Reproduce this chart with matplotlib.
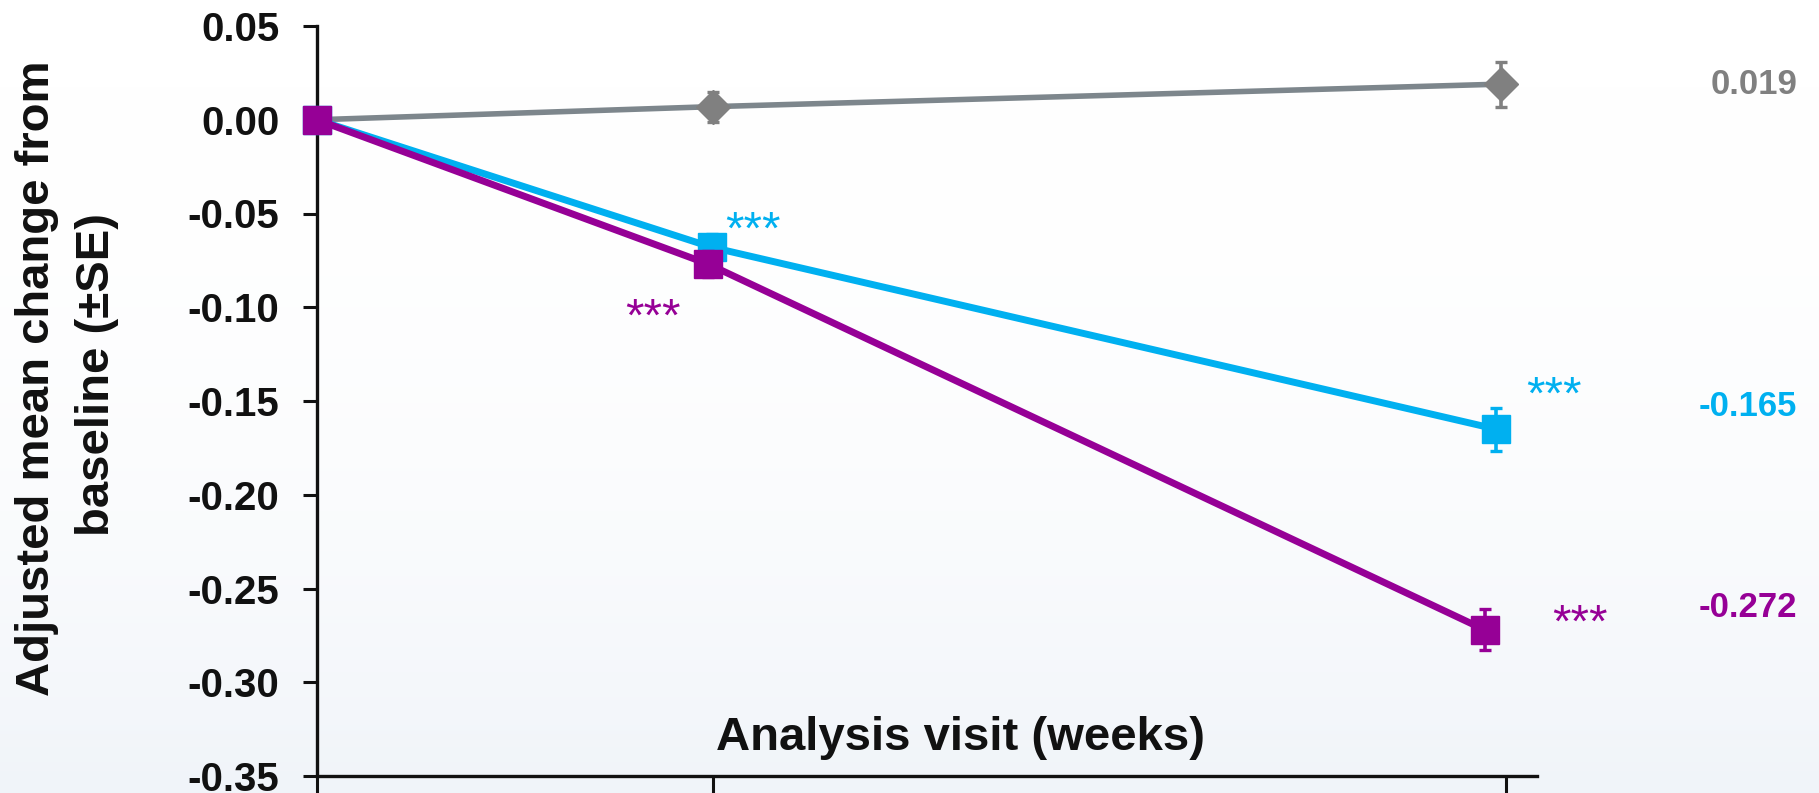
import numpy as np
import matplotlib
matplotlib.use("Agg")
import matplotlib.pyplot as plt
import matplotlib.transforms as mtransforms
from matplotlib.ticker import FormatStrFormatter
from matplotlib.colors import LinearSegmentedColormap

# ---- data -------------------------------------------------------------
weeks = [0, 12, 36]

placebo_mean = [0.0, 0.007, 0.019]
placebo_se = [0.0, 0.008, 0.012]

dose_a_mean = [0.0, -0.068, -0.165]
dose_a_se = [0.0, 0.007, 0.0115]

dose_b_mean = [0.0, -0.077, -0.272]
dose_b_se = [0.0, 0.007, 0.011]

dose_a_sig = ["", "***", "***"]
dose_b_sig = ["", "***", "***"]

y_ticks = [0.05, 0.00, -0.05, -0.10, -0.15, -0.20, -0.25, -0.30, -0.35]

y_label_lines = ["Adjusted mean change from", "baseline (\u00b1SE)"]
x_label = "Analysis visit (weeks)"

# ---- style --------------------------------------------------------------
FONT = ["Liberation Sans", "Arial", "DejaVu Sans"]
plt.rcParams["font.family"] = FONT
plt.rcParams["font.weight"] = "bold"

GRAY_LINE = "#7d868c"
GRAY = "#808080"
CYAN = "#00b0f0"
PURPLE = "#960096"
INK = "#111111"

W, H, DPI = 1819, 793, 100
fig = plt.figure(figsize=(W / DPI, H / DPI), dpi=DPI, facecolor="white")

# soft pale-blue wash in the lower part of the canvas
bg = fig.add_axes([0, 0, 1, 1], zorder=-10)
grad = np.linspace(0, 1, 256).reshape(-1, 1) ** 2.5
cmap = LinearSegmentedColormap.from_list("wash", ["#ffffff", "#f0f4f9"])
bg.imshow(grad, aspect="auto", cmap=cmap, extent=[0, 1, 0, 1], origin="upper")
bg.set_axis_off()

left, right = 317 / W, 1537 / W
bottom, top = 1 - 776 / H, 1 - 26 / H
ax = fig.add_axes([left, bottom, right - left, top - bottom])
ax.patch.set_alpha(0)

x_per_px = 36 / (1506 - 317)
ax.set_xlim(0, (1537 - 317) * x_per_px)
ax.set_ylim(-0.35, 0.05)

# horizontal dodge so the final-visit markers do not sit on top of each other
dodge = {
    "placebo": [0, 0.0, -0.15],
    "dose_a": [0, -0.05, -0.3],
    "dose_b": [0, -0.15, -0.65],
}

series = [
    ("placebo", placebo_mean, placebo_se, GRAY_LINE, GRAY, "D", 17, 4.0),
    ("dose_a", dose_a_mean, dose_a_se, CYAN, CYAN, "s", 20, 5.0),
    ("dose_b", dose_b_mean, dose_b_se, PURPLE, PURPLE, "s", 20, 5.0),
]

for z, (name, mean, se, lc, mc, mk, ms, lw) in enumerate(series):
    xs = [w + d for w, d in zip(weeks, dodge[name])]
    ax.plot(xs, mean, color=lc, lw=lw, zorder=3 + 2 * z, clip_on=False,
            solid_capstyle="butt")
    cont = ax.errorbar(xs[1:], mean[1:], yerr=se[1:], fmt=mk, color=mc,
                       ms=ms, mec=mc, ecolor=mc, elinewidth=2.6,
                       capsize=4.5, capthick=2.4, zorder=4 + 2 * z)
    for art in cont.get_children():
        art.set_clip_on(False)
    if name != "placebo":
        ax.plot([xs[0]], [mean[0]], marker=mk, ms=ms, color=mc, ls="none",
                zorder=4 + 2 * z, clip_on=False)

# axes styling
for s in ["top", "right"]:
    ax.spines[s].set_visible(False)
for s in ["left", "bottom"]:
    ax.spines[s].set_linewidth(2.4)
    ax.spines[s].set_color(INK)

ax.set_yticks(y_ticks)
ax.yaxis.set_major_formatter(FormatStrFormatter("%.2f"))
ax.tick_params(axis="y", direction="out", length=10, width=2.2, pad=17,
               labelsize=29, colors=INK)
ax.set_xticks(weeks)
ax.tick_params(axis="x", direction="out", length=14, width=2.2,
               labelbottom=False, colors=INK)
for lab in ax.get_yticklabels():
    lab.set_fontweight("bold")

# two-line rotated y-axis title
for line, xpx, ypx in zip(y_label_lines, [37, 97], [378, 375]):
    fig.text(xpx / W, 1 - ypx / H, line, rotation=90, ha="center",
             va="center", fontsize=34, fontweight="bold", color=INK)

ax.text(960 / W, 1 - 750 / H, x_label, transform=fig.transFigure,
        ha="center", va="baseline", fontsize=34, fontweight="bold",
        color=INK)

# end-of-study values at the right margin
lab_tr = mtransforms.blended_transform_factory(fig.transFigure, ax.transData)
end_labels = [
    (placebo_mean[-1], GRAY, 0),
    (dose_a_mean[-1], CYAN, 16),
    (dose_b_mean[-1], PURPLE, 16),
]
for val, col, dy in end_labels:
    ax.annotate(f"{val:.3f}", xy=(1797 / W, val), xycoords=lab_tr,
                xytext=(0, dy), textcoords="offset points",
                ha="right", va="center", fontsize=25, fontweight="bold",
                color=col, annotation_clip=False)

# significance markers
star_offsets = {
    "dose_a": [None, (30, 11), (42, 23)],
    "dose_b": [None, (-40, -39), (69, 3.6)],
}
for name, mean, sig, col in [("dose_a", dose_a_mean, dose_a_sig, CYAN),
                             ("dose_b", dose_b_mean, dose_b_sig, PURPLE)]:
    for i, txt in enumerate(sig):
        if not txt:
            continue
        x = weeks[i] + dodge[name][i]
        ax.annotate(txt, xy=(x, mean[i]), xytext=star_offsets[name][i],
                    textcoords="offset points", ha="center", va="center",
                    fontsize=34, fontweight="normal", color=col,
                    annotation_clip=False)

fig.savefig("out.png", dpi=DPI, facecolor=fig.get_facecolor())
